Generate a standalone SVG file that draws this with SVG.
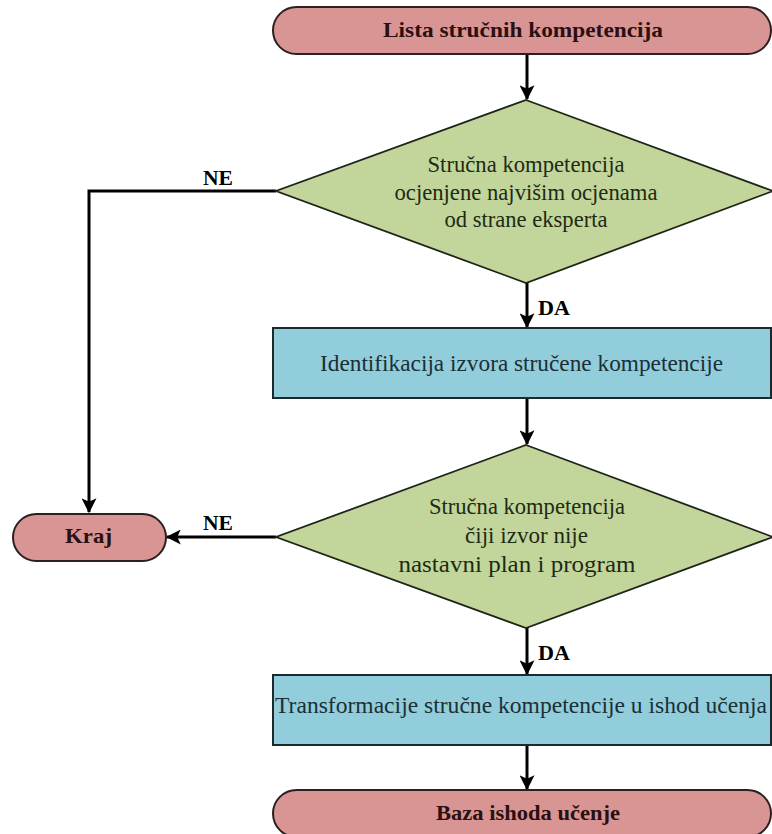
<svg xmlns="http://www.w3.org/2000/svg" width="772" height="834" viewBox="0 0 772 834">
<defs>
<style>
.term{fill:#D99594;stroke:#2b2020;stroke-width:2}
.dec{fill:#C2D69B;stroke:#1f2418;stroke-width:1.8}
.proc{fill:#92CDDC;stroke:#1c2a2e;stroke-width:2}
.conn{fill:none;stroke:#000;stroke-width:3}
text{font-family:"Liberation Serif","Times New Roman",serif;text-anchor:middle}
.tb{font-weight:bold;font-size:22px;fill:#2a1010}
.td{font-size:23px;fill:#1e2a14}
.tp{font-size:23px;fill:#1a3036}
.lbl{font-weight:bold;font-size:20px;fill:#000}
</style>
<marker id="ah" markerWidth="5" markerHeight="5" refX="4.6" refY="2.5" orient="auto" markerUnits="strokeWidth">
<path d="M0,0 L5,2.5 L0,5 L1.2,2.5 Z" fill="#000"/>
</marker>
</defs>
<rect width="772" height="834" fill="#fff"/>
<g id="connectors">
<line class="conn" x1="527" y1="54" x2="527" y2="99" marker-end="url(#ah)"/>
<path class="conn" d="M276,191 H89 V512" marker-end="url(#ah)"/>
<line class="conn" x1="527" y1="283" x2="527" y2="327" marker-end="url(#ah)"/>
<line class="conn" x1="527" y1="398" x2="527" y2="444" marker-end="url(#ah)"/>
<line class="conn" x1="276" y1="537" x2="167" y2="537" marker-end="url(#ah)"/>
<line class="conn" x1="527" y1="628" x2="527" y2="674" marker-end="url(#ah)"/>
<line class="conn" x1="527" y1="745" x2="527" y2="789" marker-end="url(#ah)"/>
<text class="lbl" x="218" y="185" textLength="30" lengthAdjust="spacingAndGlyphs">NE</text>
<text class="lbl" x="554" y="315" textLength="32" lengthAdjust="spacingAndGlyphs">DA</text>
<text class="lbl" x="218" y="530" textLength="30" lengthAdjust="spacingAndGlyphs">NE</text>
<text class="lbl" x="554" y="660" textLength="32" lengthAdjust="spacingAndGlyphs">DA</text>
</g>
<g id="start">
<rect class="term" x="273" y="7" width="498" height="47" rx="23.5"/>
<text class="tb" x="523" y="37" textLength="280" lengthAdjust="spacingAndGlyphs">Lista stručnih kompetencija</text>
</g>
<g id="decision1">
<polygon class="dec" points="526,100 773,191 526,283 276,191"/>
<text class="td" x="526" y="172" textLength="197" lengthAdjust="spacingAndGlyphs">Stručna kompetencija</text>
<text class="td" x="526" y="200" textLength="263" lengthAdjust="spacingAndGlyphs">ocjenjene najvišim ocjenama</text>
<text class="td" x="526" y="227" textLength="163" lengthAdjust="spacingAndGlyphs">od strane eksperta</text>
</g>
<g id="process1">
<rect class="proc" x="273" y="328" width="498" height="70"/>
<text class="tp" x="521.5" y="371" textLength="403" lengthAdjust="spacingAndGlyphs">Identifikacija izvora stručene kompetencije</text>
</g>
<g id="decision2">
<polygon class="dec" points="526,445 773,537 526,628 276,537"/>
<text class="td" x="527" y="514" textLength="196" lengthAdjust="spacingAndGlyphs">Stručna kompetencija</text>
<text class="td" x="526.5" y="543" textLength="123" lengthAdjust="spacingAndGlyphs">čiji izvor nije</text>
<text class="td" x="517" y="572" textLength="237" lengthAdjust="spacingAndGlyphs">nastavni plan i program</text>
</g>
<g id="end">
<rect class="term" x="13" y="514" width="153" height="47" rx="23.5"/>
<text class="tb" x="88.5" y="543" textLength="47" lengthAdjust="spacingAndGlyphs">Kraj</text>
</g>
<g id="process2">
<rect class="proc" x="273" y="675" width="498" height="70"/>
<text class="tp" x="521" y="713" textLength="492" lengthAdjust="spacingAndGlyphs">Transformacije stručne kompetencije u ishod učenja</text>
</g>
<g id="result">
<rect class="term" x="273" y="790" width="498" height="47" rx="23.5"/>
<text class="tb" x="528" y="820" textLength="184" lengthAdjust="spacingAndGlyphs">Baza ishoda učenje</text>
</g>
</svg>
